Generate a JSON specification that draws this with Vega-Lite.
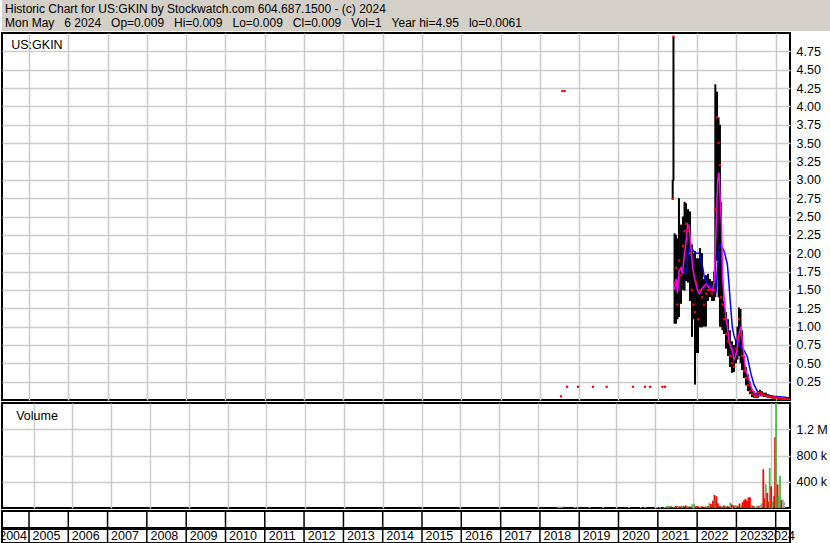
{
 "$schema": "https://vega.github.io/schema/vega-lite/v6.json",
 "padding": 0,
 "background": "white",
 "spacing": 1,
 "config": {
  "font": "Liberation Sans",
  "view": {"stroke": "black", "strokeWidth": 2},
  "axis": {"labelFont": "Liberation Sans", "labelFontSize": 12.5, "labelColor": "black", "gridColor": "#cccccc", "gridWidth": 1.5, "domain": false, "ticks": false, "tickSize": 0, "title": null, "labelOverlap": false, "labelSeparation": 0},
  "text": {"font": "Liberation Sans", "fontSize": 12.5, "color": "black"}
 },
 "resolve": {"scale": {"x": "independent", "y": "independent", "color": "independent"}},
 "datasets": {
  "header": [
   {"line": 0, "t": "Historic Chart for US:GKIN by Stockwatch.com 604.687.1500 - (c) 2024"},
   {"line": 1, "t": "Mon May\u00a0\u00a0\u00a06 2024\u00a0\u00a0\u00a0Op=0.009\u00a0\u00a0\u00a0Hi=0.009\u00a0\u00a0\u00a0Lo=0.009\u00a0\u00a0\u00a0Cl=0.009\u00a0\u00a0\u00a0Vol=1\u00a0\u00a0\u00a0Year hi=4.95\u00a0\u00a0\u00a0lo=0.0061"}
  ],
  "bars": [
   {"d":"2018-07-16","hi":0.05,"lo":0.05,"cl":0.05},
   {"d":"2018-07-29","hi":4.21,"lo":4.21,"cl":4.21},
   {"d":"2018-08-18","hi":4.21,"lo":4.21,"cl":4.21},
   {"d":"2018-09-10","hi":0.18,"lo":0.18,"cl":0.18},
   {"d":"2018-12-21","hi":0.18,"lo":0.18,"cl":0.18},
   {"d":"2019-05-09","hi":0.18,"lo":0.18,"cl":0.18},
   {"d":"2019-09-13","hi":0.18,"lo":0.18,"cl":0.18},
   {"d":"2020-05-15","hi":0.18,"lo":0.18,"cl":0.18},
   {"d":"2020-09-03","hi":0.18,"lo":0.18,"cl":0.18},
   {"d":"2020-10-20","hi":0.18,"lo":0.18,"cl":0.18},
   {"d":"2021-02-12","hi":0.18,"lo":0.18,"cl":0.18},
   {"d":"2021-03-09","hi":0.18,"lo":0.18,"cl":0.18},
   {"d":"2021-05-19","hi":3.0,"lo":2.74,"cl":2.74},
   {"d":"2021-05-26","hi":4.95,"lo":2.99,"cl":4.95},
   {"d":"2021-06-05","hi":2.27,"lo":1.04,"cl":1.6},
   {"d":"2021-06-19","hi":2.25,"lo":1.04,"cl":1.8},
   {"d":"2021-07-02","hi":2.2,"lo":1.1,"cl":1.3},
   {"d":"2021-07-16","hi":2.75,"lo":1.13,"cl":1.9},
   {"d":"2021-08-04","hi":2.39,"lo":1.31,"cl":1.7},
   {"d":"2021-08-23","hi":2.5,"lo":1.5,"cl":2.1},
   {"d":"2021-09-06","hi":2.7,"lo":1.49,"cl":2.3},
   {"d":"2021-09-20","hi":2.68,"lo":1.62,"cl":2.4},
   {"d":"2021-10-08","hi":2.6,"lo":1.6,"cl":2.3},
   {"d":"2021-10-27","hi":2.57,"lo":1.35,"cl":2.0},
   {"d":"2021-11-14","hi":2.12,"lo":0.86,"cl":1.5},
   {"d":"2021-11-28","hi":2.0,"lo":1.1,"cl":1.3},
   {"d":"2021-12-12","hi":2.03,"lo":0.21,"cl":1.2},
   {"d":"2021-12-26","hi":1.93,"lo":0.64,"cl":1.6},
   {"d":"2022-01-09","hi":1.93,"lo":0.64,"cl":1.1},
   {"d":"2022-01-28","hi":2.07,"lo":0.99,"cl":1.5},
   {"d":"2022-02-15","hi":2.0,"lo":0.99,"cl":1.4},
   {"d":"2022-03-06","hi":1.65,"lo":1.0,"cl":1.3},
   {"d":"2022-03-24","hi":1.7,"lo":1.0,"cl":1.45},
   {"d":"2022-04-12","hi":1.72,"lo":1.35,"cl":1.5},
   {"d":"2022-04-30","hi":1.65,"lo":1.4,"cl":1.5},
   {"d":"2022-05-19","hi":1.62,"lo":1.35,"cl":1.45},
   {"d":"2022-06-07","hi":1.75,"lo":1.35,"cl":1.5},
   {"d":"2022-06-19","hi":4.3,"lo":1.4,"cl":2.6},
   {"d":"2022-07-05","hi":4.2,"lo":1.9,"cl":3.85},
   {"d":"2022-07-19","hi":3.85,"lo":1.4,"cl":3.5},
   {"d":"2022-08-01","hi":3.75,"lo":1.0,"cl":3.2},
   {"d":"2022-08-10","hi":2.7,"lo":1.0,"cl":1.4},
   {"d":"2022-08-24","hi":1.65,"lo":0.95,"cl":1.3},
   {"d":"2022-09-08","hi":1.35,"lo":0.9,"cl":1.1},
   {"d":"2022-09-26","hi":1.2,"lo":0.7,"cl":0.9},
   {"d":"2022-10-15","hi":1.1,"lo":0.6,"cl":0.8},
   {"d":"2022-11-02","hi":0.95,"lo":0.45,"cl":0.6},
   {"d":"2022-11-21","hi":0.8,"lo":0.37,"cl":0.5},
   {"d":"2022-12-09","hi":0.75,"lo":0.38,"cl":0.45},
   {"d":"2022-12-28","hi":0.81,"lo":0.5,"cl":0.7},
   {"d":"2023-01-11","hi":1.0,"lo":0.55,"cl":0.85},
   {"d":"2023-01-25","hi":1.26,"lo":0.6,"cl":1.1},
   {"d":"2023-02-08","hi":1.24,"lo":0.5,"cl":0.9},
   {"d":"2023-02-22","hi":0.95,"lo":0.41,"cl":0.6},
   {"d":"2023-03-12","hi":0.6,"lo":0.3,"cl":0.4},
   {"d":"2023-03-31","hi":0.45,"lo":0.2,"cl":0.3},
   {"d":"2023-04-18","hi":0.35,"lo":0.12,"cl":0.2},
   {"d":"2023-05-07","hi":0.25,"lo":0.08,"cl":0.12},
   {"d":"2023-05-26","hi":0.15,"lo":0.04,"cl":0.08},
   {"d":"2023-06-13","hi":0.12,"lo":0.03,"cl":0.05},
   {"d":"2023-07-02","hi":0.1,"lo":0.03,"cl":0.05},
   {"d":"2023-07-20","hi":0.12,"lo":0.03,"cl":0.1},
   {"d":"2023-08-08","hi":0.14,"lo":0.05,"cl":0.1},
   {"d":"2023-08-26","hi":0.12,"lo":0.05,"cl":0.08},
   {"d":"2023-09-14","hi":0.1,"lo":0.04,"cl":0.07},
   {"d":"2023-10-03","hi":0.1,"lo":0.04,"cl":0.06},
   {"d":"2023-10-21","hi":0.08,"lo":0.03,"cl":0.05},
   {"d":"2023-11-09","hi":0.07,"lo":0.03,"cl":0.04},
   {"d":"2023-11-27","hi":0.06,"lo":0.02,"cl":0.04},
   {"d":"2023-12-16","hi":0.05,"lo":0.02,"cl":0.03},
   {"d":"2024-01-03","hi":0.05,"lo":0.02,"cl":0.03},
   {"d":"2024-01-22","hi":0.04,"lo":0.015,"cl":0.025},
   {"d":"2024-02-10","hi":0.04,"lo":0.01,"cl":0.02},
   {"d":"2024-02-28","hi":0.03,"lo":0.01,"cl":0.015},
   {"d":"2024-03-18","hi":0.025,"lo":0.008,"cl":0.012},
   {"d":"2024-04-05","hi":0.02,"lo":0.007,"cl":0.01},
   {"d":"2024-04-24","hi":0.015,"lo":0.007,"cl":0.01},
   {"d":"2024-05-06","hi":0.009,"lo":0.009,"cl":0.009}
  ],
  "ma1": [
   {"d":"2021-06-05","v":1.5},{"d":"2021-06-19","v":1.65},{"d":"2021-07-03","v":1.45},{"d":"2021-07-16","v":1.75},
   {"d":"2021-08-04","v":1.8},{"d":"2021-08-18","v":1.72},{"d":"2021-09-01","v":1.94},{"d":"2021-09-20","v":2.16},
   {"d":"2021-10-05","v":2.39},{"d":"2021-10-20","v":2.35},{"d":"2021-11-05","v":2.07},{"d":"2021-11-21","v":1.8},
   {"d":"2021-12-06","v":1.67},{"d":"2022-01-06","v":1.49},{"d":"2022-01-21","v":1.45},{"d":"2022-02-22","v":1.53},
   {"d":"2022-03-24","v":1.58},{"d":"2022-04-23","v":1.53},{"d":"2022-05-25","v":1.49},{"d":"2022-06-09","v":1.62},
   {"d":"2022-06-25","v":2.3},{"d":"2022-07-11","v":3.0},{"d":"2022-07-23","v":3.1},{"d":"2022-08-04","v":2.7},
   {"d":"2022-08-15","v":2.4},{"d":"2022-08-27","v":1.62},{"d":"2022-09-11","v":1.35},{"d":"2022-09-26","v":1.1},
   {"d":"2022-10-09","v":1.0},{"d":"2022-10-24","v":0.81},{"d":"2022-11-09","v":0.72},{"d":"2022-11-24","v":0.68},
   {"d":"2022-12-09","v":0.55},{"d":"2022-12-25","v":0.6},{"d":"2023-01-09","v":0.72},{"d":"2023-01-25","v":0.9},
   {"d":"2023-02-10","v":1.0},{"d":"2023-02-25","v":0.81},{"d":"2023-03-12","v":0.59},{"d":"2023-03-28","v":0.41},
   {"d":"2023-04-28","v":0.28},{"d":"2023-05-26","v":0.14},{"d":"2023-06-29","v":0.07},{"d":"2023-07-20","v":0.06},
   {"d":"2023-08-26","v":0.07},{"d":"2023-10-12","v":0.05},{"d":"2023-11-27","v":0.04},{"d":"2024-02-28","v":0.025},
   {"d":"2024-05-06","v":0.015}
  ],
  "ma2": [
   {"d":"2021-09-10","v":1.7},{"d":"2021-09-24","v":1.76},{"d":"2021-10-08","v":1.95},{"d":"2021-10-20","v":2.07},
   {"d":"2021-11-05","v":2.1},{"d":"2021-11-21","v":2.05},{"d":"2021-12-03","v":2.02},{"d":"2021-12-22","v":2.0},
   {"d":"2022-01-21","v":2.0},{"d":"2022-02-06","v":1.89},{"d":"2022-02-20","v":1.82},{"d":"2022-03-09","v":1.67},
   {"d":"2022-04-09","v":1.58},{"d":"2022-05-10","v":1.55},{"d":"2022-06-09","v":1.47},{"d":"2022-06-25","v":1.47},
   {"d":"2022-07-11","v":1.8},{"d":"2022-07-23","v":2.05},{"d":"2022-08-04","v":2.12},{"d":"2022-08-20","v":2.08},
   {"d":"2022-09-08","v":2.03},{"d":"2022-10-09","v":1.85},{"d":"2022-10-24","v":1.58},{"d":"2022-11-09","v":1.26},
   {"d":"2022-11-24","v":0.99},{"d":"2022-12-09","v":0.88},{"d":"2022-12-25","v":0.81},{"d":"2023-01-16","v":0.76},
   {"d":"2023-02-10","v":0.72},{"d":"2023-03-12","v":0.68},{"d":"2023-04-12","v":0.59},{"d":"2023-04-28","v":0.48},
   {"d":"2023-05-14","v":0.37},{"d":"2023-05-31","v":0.28},{"d":"2023-06-13","v":0.21},{"d":"2023-07-14","v":0.12},
   {"d":"2023-08-08","v":0.09},{"d":"2023-09-14","v":0.07},{"d":"2023-12-16","v":0.05},{"d":"2024-02-28","v":0.04},
   {"d":"2024-05-06","v":0.03}
  ],
  "vol": [
   {"d":"2018-07-02","v":20000,"dir":"up"},{"d":"2018-07-20","v":20000,"dir":"flat"},{"d":"2018-08-08","v":20000,"dir":"flat"},
   {"d":"2018-08-31","v":20000,"dir":"down"},{"d":"2018-12-11","v":15000,"dir":"flat"},{"d":"2019-04-30","v":15000,"dir":"flat"},
   {"d":"2019-09-07","v":15000,"dir":"flat"},{"d":"2020-05-05","v":15000,"dir":"flat"},{"d":"2020-08-25","v":15000,"dir":"flat"},
   {"d":"2020-10-06","v":15000,"dir":"flat"},{"d":"2021-01-26","v":15000,"dir":"flat"},{"d":"2021-02-23","v":15000,"dir":"flat"},
   {"d":"2021-04-06","v":15000,"dir":"flat"},{"d":"2021-04-29","v":30000,"dir":"up"},{"d":"2021-05-18","v":35000,"dir":"up"},
   {"d":"2021-06-05","v":25000,"dir":"down"},{"d":"2021-06-28","v":20000,"dir":"up"},{"d":"2021-07-22","v":30000,"dir":"down"},
   {"d":"2021-08-09","v":30000,"dir":"up"},{"d":"2021-08-28","v":25000,"dir":"down"},{"d":"2021-09-15","v":35000,"dir":"up"},
   {"d":"2021-10-04","v":30000,"dir":"down"},{"d":"2021-10-22","v":40000,"dir":"down"},{"d":"2021-11-10","v":30000,"dir":"up"},
   {"d":"2021-11-29","v":25000,"dir":"down"},{"d":"2021-12-22","v":55000,"dir":"up"},{"d":"2022-01-09","v":65000,"dir":"up"},
   {"d":"2022-01-28","v":30000,"dir":"down"},{"d":"2022-02-15","v":25000,"dir":"down"},{"d":"2022-03-06","v":20000,"dir":"up"},
   {"d":"2022-03-24","v":25000,"dir":"down"},{"d":"2022-04-12","v":20000,"dir":"down"},{"d":"2022-05-01","v":25000,"dir":"up"},
   {"d":"2022-05-19","v":30000,"dir":"down"},{"d":"2022-06-02","v":80000,"dir":"up"},{"d":"2022-06-16","v":60000,"dir":"down"},
   {"d":"2022-07-05","v":110000,"dir":"down"},{"d":"2022-07-19","v":200000,"dir":"down"},{"d":"2022-07-28","v":120000,"dir":"up"},
   {"d":"2022-08-06","v":180000,"dir":"down"},{"d":"2022-08-20","v":70000,"dir":"down"},{"d":"2022-09-08","v":35000,"dir":"down"},
   {"d":"2022-09-27","v":30000,"dir":"up"},{"d":"2022-10-15","v":40000,"dir":"down"},{"d":"2022-11-02","v":35000,"dir":"up"},
   {"d":"2022-11-21","v":30000,"dir":"down"},{"d":"2022-12-15","v":80000,"dir":"up"},{"d":"2022-12-29","v":55000,"dir":"down"},
   {"d":"2023-01-16","v":40000,"dir":"down"},{"d":"2023-02-03","v":45000,"dir":"up"},{"d":"2023-02-22","v":35000,"dir":"down"},
   {"d":"2023-03-12","v":70000,"dir":"down"},{"d":"2023-03-27","v":40000,"dir":"up"},{"d":"2023-04-10","v":90000,"dir":"down"},
   {"d":"2023-04-24","v":120000,"dir":"down"},{"d":"2023-05-07","v":140000,"dir":"down"},{"d":"2023-05-21","v":110000,"dir":"down"},
   {"d":"2023-06-04","v":160000,"dir":"down"},{"d":"2023-06-18","v":165000,"dir":"down"},{"d":"2023-07-02","v":50000,"dir":"up"},
   {"d":"2023-07-16","v":35000,"dir":"down"},{"d":"2023-07-30","v":30000,"dir":"up"},{"d":"2023-08-13","v":20000,"dir":"flat"},
   {"d":"2023-08-27","v":35000,"dir":"up"},{"d":"2023-09-10","v":30000,"dir":"down"},{"d":"2023-09-23","v":45000,"dir":"flat"},
   {"d":"2023-10-07","v":70000,"dir":"up"},{"d":"2023-10-22","v":590000,"dir":"down"},{"d":"2023-11-05","v":150000,"dir":"down"},
   {"d":"2023-11-14","v":360000,"dir":"up"},{"d":"2023-11-28","v":230000,"dir":"down"},{"d":"2023-12-07","v":100000,"dir":"down"},
   {"d":"2023-12-21","v":610000,"dir":"up"},{"d":"2024-01-04","v":330000,"dir":"down"},{"d":"2024-01-18","v":100000,"dir":"up"},
   {"d":"2024-02-01","v":180000,"dir":"down"},{"d":"2024-02-10","v":1080000,"dir":"down"},{"d":"2024-02-19","v":1650000,"dir":"up"},
   {"d":"2024-03-04","v":360000,"dir":"down"},{"d":"2024-03-13","v":180000,"dir":"up"},{"d":"2024-03-27","v":490000,"dir":"up"},
   {"d":"2024-04-10","v":120000,"dir":"down"},{"d":"2024-04-24","v":130000,"dir":"flat"},{"d":"2024-05-06","v":90000,"dir":"flat"}
  ],
  "years": [
   {"lab":"2004","start":"2004-01-01","mid":"2004-08-06"},
   {"lab":"2005","start":"2005-01-01","mid":"2005-06-12"},
   {"lab":"2006","start":"2006-01-01","mid":"2006-06-12"},
   {"lab":"2007","start":"2007-01-01","mid":"2007-06-12"},
   {"lab":"2008","start":"2008-01-01","mid":"2008-06-12"},
   {"lab":"2009","start":"2009-01-01","mid":"2009-06-12"},
   {"lab":"2010","start":"2010-01-01","mid":"2010-06-12"},
   {"lab":"2011","start":"2011-01-01","mid":"2011-06-12"},
   {"lab":"2012","start":"2012-01-01","mid":"2012-06-12"},
   {"lab":"2013","start":"2013-01-01","mid":"2013-06-12"},
   {"lab":"2014","start":"2014-01-01","mid":"2014-06-12"},
   {"lab":"2015","start":"2015-01-01","mid":"2015-06-12"},
   {"lab":"2016","start":"2016-01-01","mid":"2016-06-12"},
   {"lab":"2017","start":"2017-01-01","mid":"2017-06-12"},
   {"lab":"2018","start":"2018-01-01","mid":"2018-06-12"},
   {"lab":"2019","start":"2019-01-01","mid":"2019-06-12"},
   {"lab":"2020","start":"2020-01-01","mid":"2020-06-12"},
   {"lab":"2021","start":"2021-01-01","mid":"2021-06-12"},
   {"lab":"2022","start":"2022-01-01","mid":"2022-06-12"},
   {"lab":"2023","start":"2023-01-01","mid":"2023-06-12"},
   {"lab":"2024","start":"2024-01-01","mid":"2024-02-19"}
  ]
 },
 "vconcat": [
  {
   "width": 830, "height": 31,
   "view": {"fill": "#d4d0c8", "stroke": null},
   "data": {"name": "header"},
   "mark": {"type": "text", "align": "left", "baseline": "alphabetic", "dx": 3, "dy": 4.8, "fontSize": 12, "color": "black"},
   "encoding": {
    "x": {"datum": 0, "type": "quantitative", "scale": {"domain": [0, 1]}, "axis": null},
    "y": {"field": "line", "type": "ordinal", "scale": {"type": "point", "padding": 0.607}, "axis": null},
    "text": {"field": "t", "type": "nominal"}
   }
  },
  {
   "width": 788, "height": 367,
   "layer": [
    {
     "data": {"name": "bars"},
     "mark": {"type": "rule", "color": "black", "strokeWidth": 2, "clip": true},
     "encoding": {
      "x": {"field": "d", "type": "temporal", "scale": {"domain": [{"year": 2004, "month": 4, "date": 25}, {"year": 2024, "month": 5, "date": 13}]},
            "axis": {"grid": true, "labels": false, "tickCount": {"interval": "year", "step": 1}}},
      "y": {"field": "lo", "type": "quantitative", "scale": {"domain": [0, 4.95]},
            "axis": {"orient": "right", "grid": true, "tickCount": 30, "values": [0.25,0.5,0.75,1,1.25,1.5,1.75,2,2.25,2.5,2.75,3,3.25,3.5,3.75,4,4.25,4.5,4.75], "format": ".2f", "labelPadding": 6, "labelOverlap": false, "labelSeparation": 0, "labelBound": false}},
      "y2": {"field": "hi"}
     }
    },
    {
     "data": {"name": "ma2"},
     "mark": {"type": "line", "color": "#0000ff", "strokeWidth": 1.5, "clip": true},
     "encoding": {"x": {"field": "d", "type": "temporal"}, "y": {"field": "v", "type": "quantitative"}}
    },
    {
     "data": {"name": "ma1"},
     "mark": {"type": "line", "color": "#ff00ff", "strokeWidth": 1.5, "clip": true},
     "encoding": {"x": {"field": "d", "type": "temporal"}, "y": {"field": "v", "type": "quantitative"}}
    },
    {
     "data": {"name": "bars"},
     "mark": {"type": "point", "shape": "square", "filled": true, "size": 5, "color": "#ff0000", "opacity": 1, "clip": true},
     "encoding": {"x": {"field": "d", "type": "temporal"}, "y": {"field": "cl", "type": "quantitative"}}
    },
    {
     "data": {"values": [{"t": "US:GKIN"}]},
     "mark": {"type": "text", "align": "left", "baseline": "middle"},
     "encoding": {
      "x": {"datum": {"year": 2004, "month": 7, "date": 20}, "type": "temporal"},
      "y": {"datum": 4.83, "type": "quantitative"},
      "text": {"field": "t", "type": "nominal"}
     }
    }
   ]
  },
  {
   "width": 788, "height": 105,
   "layer": [
    {
     "data": {"name": "vol"},
     "mark": {"type": "bar", "width": 1.8, "clip": true},
     "encoding": {
      "x": {"field": "d", "type": "temporal", "scale": {"domain": [{"year": 2004, "month": 4, "date": 25}, {"year": 2024, "month": 5, "date": 13}]},
            "axis": {"grid": true, "labels": false, "tickCount": {"interval": "year", "step": 1}}},
      "y": {"field": "v", "type": "quantitative", "scale": {"domain": [0, 1565000]},
            "axis": {"orient": "right", "grid": true, "tickCount": 10, "values": [400000, 800000, 1200000], "labelPadding": 6, "labelOverlap": false,
                     "labelExpr": "datum.value >= 1000000 ? format(datum.value / 1000000, '.1f') + ' M' : format(datum.value / 1000, 'd') + ' k'"}},
      "color": {"field": "dir", "type": "nominal", "scale": {"domain": ["up", "down", "flat"], "range": ["#4cb84c", "#ff0000", "#a8a8a8"]}, "legend": null}
     }
    },
    {
     "data": {"values": [{"t": "Volume"}]},
     "mark": {"type": "text", "align": "left", "baseline": "middle"},
     "encoding": {
      "x": {"datum": {"year": 2004, "month": 7, "date": 20}, "type": "temporal"},
      "y": {"datum": 1400000, "type": "quantitative"},
      "text": {"field": "t", "type": "nominal"}
     }
    }
   ]
  },
  {
   "width": 788, "height": 32,
   "data": {"name": "years"},
   "layer": [
    {
     "mark": {"type": "rule", "color": "black", "strokeWidth": 1.5, "clip": true},
     "encoding": {"x": {"field": "start", "type": "temporal", "scale": {"domain": [{"year": 2004, "month": 4, "date": 25}, {"year": 2024, "month": 5, "date": 13}]}, "axis": null}}
    },
    {
     "mark": {"type": "rule", "color": "black", "strokeWidth": 2},
     "encoding": {"y": {"datum": 16, "type": "quantitative", "scale": {"domain": [0, 32]}, "axis": null}}
    },
    {
     "transform": [{"filter": "datum.lab != '2004'"}],
     "mark": {"type": "text", "baseline": "alphabetic", "align": "center"},
     "encoding": {
      "x": {"field": "mid", "type": "temporal"},
      "y": {"datum": 3.7, "type": "quantitative"},
      "text": {"field": "lab", "type": "nominal"}
     }
    },
    {
     "transform": [{"filter": "datum.lab == '2004'"}],
     "mark": {"type": "text", "baseline": "alphabetic", "align": "center", "clip": true},
     "encoding": {
      "x": {"field": "mid", "type": "temporal"},
      "y": {"datum": 3.7, "type": "quantitative"},
      "text": {"field": "lab", "type": "nominal"}
     }
    }
   ]
  }
 ]
}
